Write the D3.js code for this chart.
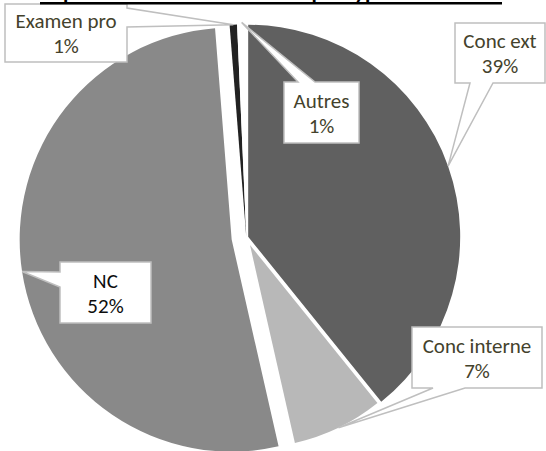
<!DOCTYPE html>
<html>
<head>
<meta charset="utf-8">
<script src="https://cdn.jsdelivr.net/npm/d3@7"></script>
<style>
  body { margin: 0; background: #fff; }
  svg { display: block; }
</style>
</head>
<body>
<div id="chart"></div>
<script>
// data (percent of total)
const labels = ['Conc ext', 'Conc interne', 'NC', 'Examen pro', 'Autres'];
const values = [39.2, 7.25, 52.3, 0.56, 0.69];
const title = 'Répartition des recrutements par type de concours';

const width = 546, height = 451;
const cx = 246.3, cy = 237.4;
const colors = ['#606060', '#b8b8b8', '#898989', '#222222', '#ffffff'];
const explode = [2, 8.5, 14.8, 1, 3];
const radius = [212, 203, 212, 212, 212];
const textColors = ['#44422c', '#44422c', '#0d0d0d', '#44422c', '#44422c'];
const font = 'Carlito, Calibri, Lato, sans-serif';

// callout boxes: [x0, y0, x1, y1], side the pointer leaves from, base of the pointer
const callouts = [
  { box: [455, 23, 545, 83], side: 'bottom', base: [470, 493] },
  { box: [412, 327, 542, 388], side: 'bottom', base: [433, 465] },
  { box: [60, 262, 151, 323], side: 'left', base: [272, 287] },
  { box: [5, 4, 127, 62], side: 'right', base: [8, 27] },
  { box: [284, 82, 359, 143], side: 'top', base: [298, 315] }
];

const data = labels.map((l, i) => ({ label: l, value: values[i], i: i }));
const total = d3.sum(values);
const pct = d3.format('.0%');

const svg = d3.select('#chart')
  .append('svg')
  .attr('width', width)
  .attr('height', height);

const pieGenerator = d3.pie()
  .sort(null)
  .value(d => d.value);

const arcs = pieGenerator(data);

// each slice is pulled out along its middle angle
function offset(d) {
  const mid = (d.startAngle + d.endAngle) / 2;
  const [ox, oy] = d3.pointRadial(mid, explode[d.data.i]);
  return [cx + ox, cy + oy];
}

svg.append('g')
  .selectAll('path')
  .data(arcs)
  .enter()
  .append('path')
  .attr('d', d => d3.arc().innerRadius(0).outerRadius(radius[d.data.i])(d))
  .attr('transform', d => `translate(${offset(d)})`)
  .style('fill', d => colors[d.data.i]);

// callout shapes
function calloutPath(c, tip) {
  const [x0, y0, x1, y1] = c.box;
  const [b0, b1] = c.base;
  const [tx, ty] = tip;
  let pts;
  if (c.side === 'top') {
    pts = [[x0, y0], [b0, y0], [tx, ty], [b1, y0], [x1, y0], [x1, y1], [x0, y1]];
  } else if (c.side === 'right') {
    pts = [[x0, y0], [x1, y0], [x1, b0], [tx, ty], [x1, b1], [x1, y1], [x0, y1]];
  } else if (c.side === 'bottom') {
    pts = [[x0, y0], [x1, y0], [x1, y1], [b1, y1], [tx, ty], [b0, y1], [x0, y1]];
  } else {
    pts = [[x0, y0], [x1, y0], [x1, y1], [x0, y1], [x0, b1], [tx, ty], [x0, b0]];
  }
  return 'M' + pts.map(p => p.join(',')).join('L') + 'Z';
}

const labelG = svg.append('g')
  .selectAll('g')
  .data(arcs)
  .enter()
  .append('g');

labelG.append('path')
  .attr('d', d => {
    const mid = (d.startAngle + d.endAngle) / 2;
    const [vx, vy] = offset(d);
    const [px, py] = d3.pointRadial(mid, radius[d.data.i]);
    return calloutPath(callouts[d.data.i], [vx + px, vy + py]);
  })
  .style('fill', '#ffffff')
  .style('stroke', '#bfbfbf')
  .style('stroke-width', 1.5)
  .style('stroke-linejoin', 'miter');

const txt = labelG.append('text')
  .attr('text-anchor', 'middle')
  .style('font-family', font)
  .style('font-size', '21px')
  .style('fill', d => textColors[d.data.i]);

txt.append('tspan')
  .attr('x', d => (callouts[d.data.i].box[0] + callouts[d.data.i].box[2]) / 2)
  .attr('y', d => (callouts[d.data.i].box[1] + callouts[d.data.i].box[3]) / 2 - 5)
  .text(d => d.data.label);

txt.append('tspan')
  .attr('x', d => (callouts[d.data.i].box[0] + callouts[d.data.i].box[2]) / 2)
  .attr('y', d => (callouts[d.data.i].box[1] + callouts[d.data.i].box[3]) / 2 + 20)
  .text(d => pct(d.data.value / total));

// title, mostly cut off by the top edge (as in the source picture)
svg.append('text')
  .attr('x', 40)
  .attr('y', -1)
  .attr('textLength', 462)
  .attr('lengthAdjust', 'spacingAndGlyphs')
  .style('font-family', font)
  .style('font-weight', 'bold')
  .style('font-size', '21px')
  .style('fill', '#000')
  .text(title);

svg.append('rect')
  .attr('x', 40)
  .attr('y', 2)
  .attr('width', 462)
  .attr('height', 2.5)
  .style('fill', '#000');
</script>
</body>
</html>
